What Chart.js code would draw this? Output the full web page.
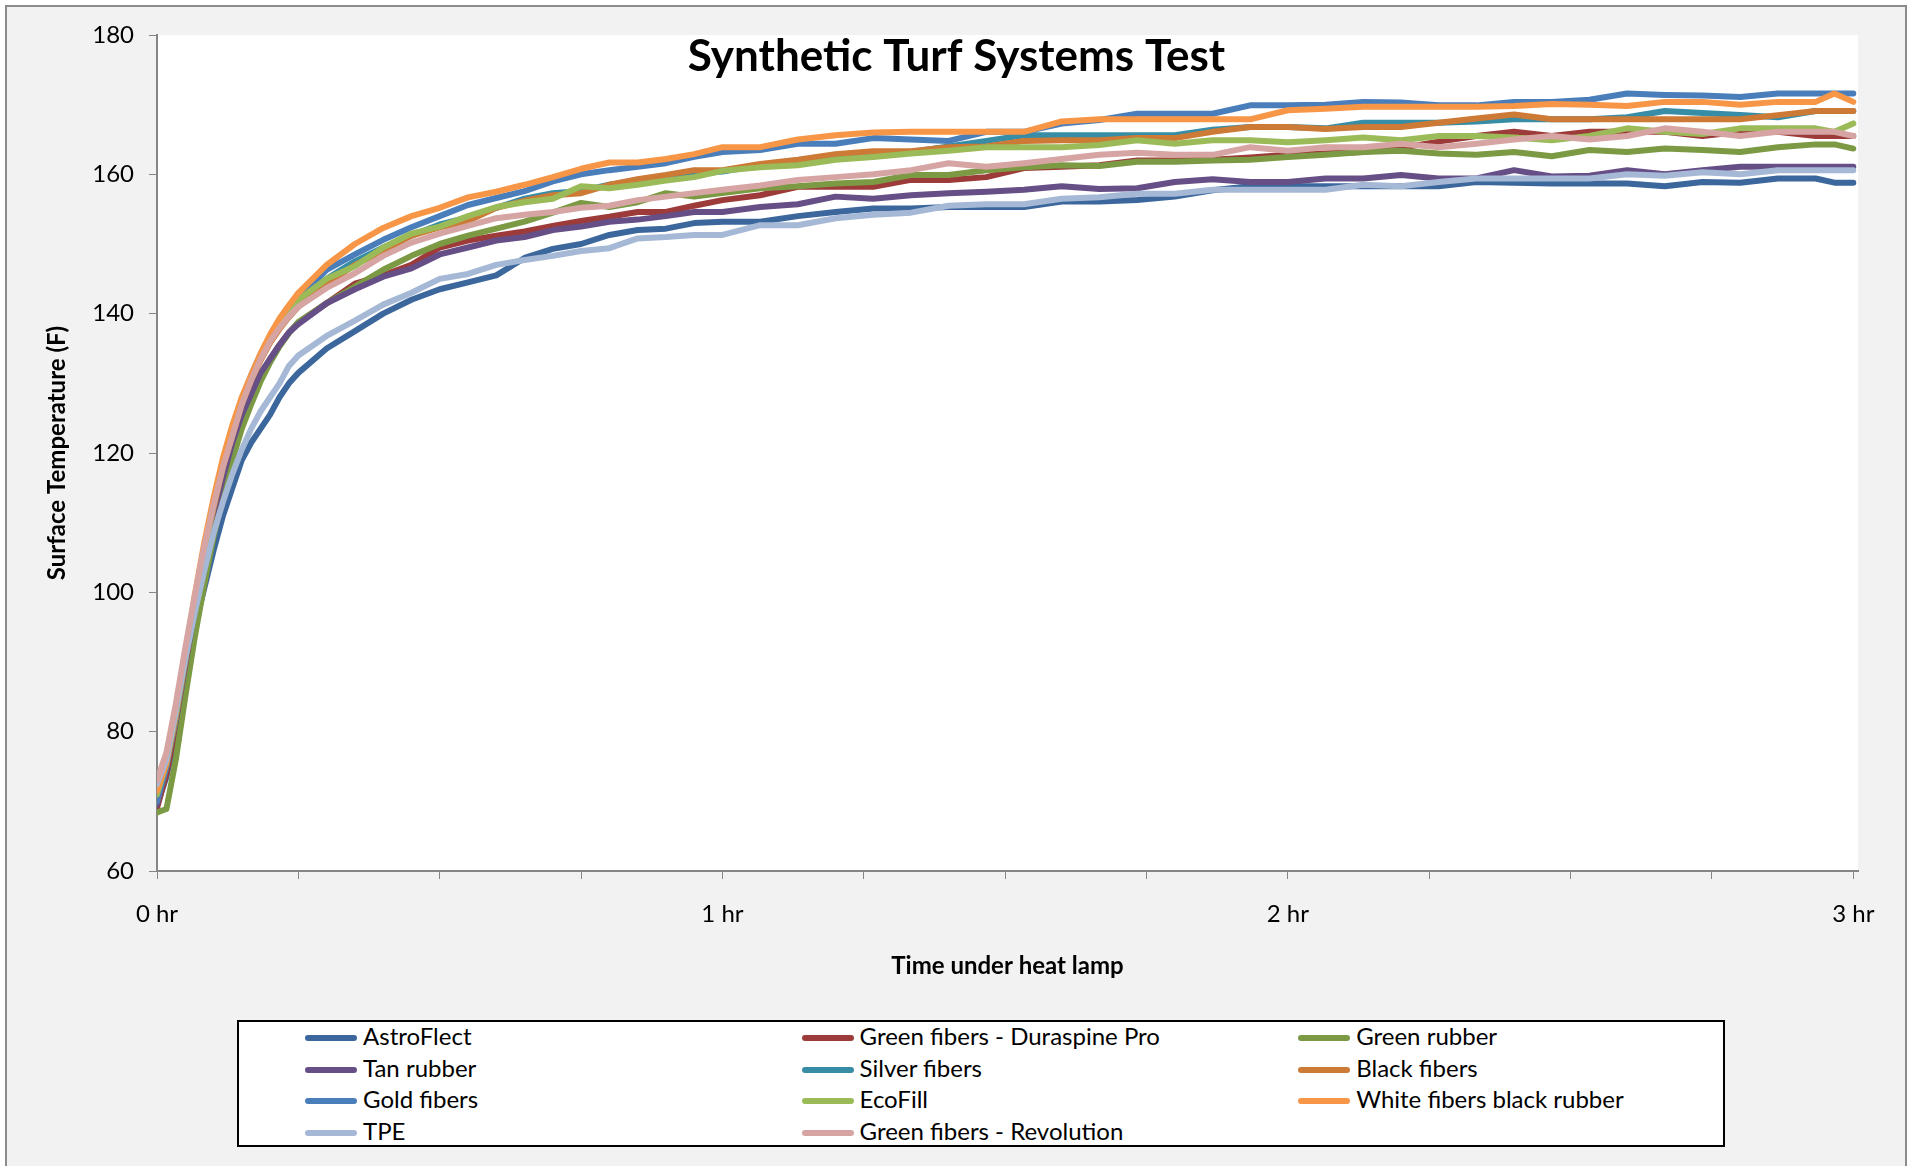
<!DOCTYPE html>
<html>
<head>
<meta charset="utf-8">
<title>Synthetic Turf Systems Test</title>
<script src="https://cdn.jsdelivr.net/npm/chart.js@4.4.1/dist/chart.umd.min.js"></script>
<style>
  html, body { margin: 0; padding: 0; background: #fff; overflow: hidden; }
  #frame { position: absolute; left: 5px; top: 5px; width: 1898px; height: 1300px; background: #f2f2f2; border: 2px solid #8c8c8c; }
  #wrap { position: absolute; left: 0; top: 0; width: 1913px; height: 1166px; }
  #legend { position: absolute; left: 237px; top: 1020px; width: 1484px; height: 123px; border: 2px solid #000; background: #fff;
            font-family: Lato, sans-serif; font-size: 24px; color: #000; }
  .item { position: absolute; height: 30px; line-height: 30px; white-space: nowrap; }
  .swatch { display: inline-block; width: 52px; height: 6px; border-radius: 3px; vertical-align: middle; margin-right: 6px; position: relative; top: -1px; }
</style>
</head>
<body>
<div id="frame"></div>
<div id="wrap"><canvas id="turfChart"></canvas></div>
<div id="legend"></div>
<script>
// minutes under the lamp
const times = [0, 1, 2, 3, 4, 5, 6, 7, 8, 9, 10, 11, 12, 13, 14, 15,
  18, 21, 24, 27, 30, 33, 36, 39, 42, 45, 48, 51, 54, 57, 60,
  64, 68, 72, 76, 80, 84, 88, 92, 96, 100, 104, 108, 112, 116, 120, 124, 128, 132, 136, 140, 144, 148, 152, 156, 160, 164, 168, 172, 176, 178, 180];

const seriesNames = ['AstroFlect', 'Green fibers - Duraspine Pro', 'Green rubber', 'Tan rubber', 'Silver fibers', 'Black fibers',
  'Gold fibers', 'EcoFill', 'White fibers black rubber', 'TPE', 'Green fibers - Revolution'];

const astroFlect = [69.5, 73.5, 79.5, 87.5, 95, 100.5, 106, 111, 115, 119, 121.5, 123.5, 125.5, 128, 130, 131.5,
  135, 137.5, 140, 142, 143.5, 144.5, 145.5, 148, 149.3, 150, 151.3, 152, 152.2, 153, 153.2,
  153.2, 154, 154.6, 155.1, 155.1, 155.3, 155.3, 155.3, 156.1, 156.1, 156.3, 156.8, 157.7, 158.3, 158.3, 158.3, 158.3, 158.3, 158.3, 158.9, 158.8, 158.7, 158.7, 158.7, 158.3, 158.9, 158.8, 159.4, 159.4, 158.8, 158.8];
const duraspinePro = [69, 74, 80.5, 88.5, 96, 103, 109.5, 115, 120, 124.5, 128, 131, 133.5, 135.5, 137.3, 138.7,
  141.5, 144.3, 145.5, 147, 149.5, 150.5, 151.2, 151.8, 152.6, 153.3, 153.9, 154.6, 154.6, 155.5, 156.3,
  157, 158.2, 158.2, 158.2, 159.2, 159.2, 159.6, 160.9, 161.1, 161.3, 162, 162, 162.1, 162.4, 162.8, 163, 163.2, 163.8, 164.7, 165.5, 166.1, 165.5, 166.1, 166.1, 166.1, 165.5, 166.1, 166.1, 165.5, 165.5, 165.5];
const greenRubber = [68.4, 68.9, 76, 85, 93.5, 101, 108, 114, 119, 123.5, 127, 130.3, 133, 135.3, 137.2, 138.8,
  141.5, 143.9, 146.3, 148.3, 150, 151.2, 152.2, 153.2, 154.5, 155.9, 155.3, 156, 157.3, 156.8, 157.3,
  158, 158.3, 158.7, 158.9, 159.9, 159.9, 160.6, 161, 161.3, 161.2, 161.8, 161.8, 162, 162.1, 162.5, 162.8, 163.2, 163.4, 163, 162.8, 163.2, 162.6, 163.5, 163.2, 163.7, 163.5, 163.2, 163.9, 164.3, 164.3, 163.7];
const tanRubber = [69.5, 75, 81.5, 89.5, 97.5, 104.5, 111, 116.5, 121.5, 125.5, 128.5, 131.5, 133.5, 135.5, 137.3, 138.5,
  141.5, 143.5, 145.3, 146.5, 148.5, 149.5, 150.5, 151, 152, 152.5, 153.2, 153.5, 154, 154.6, 154.6,
  155.3, 155.7, 156.8, 156.5, 157, 157.3, 157.5, 157.8, 158.3, 157.9, 158, 158.9, 159.3, 158.9, 158.9, 159.4, 159.4, 159.9, 159.4, 159.4, 160.6, 159.7, 159.8, 160.6, 160, 160.6, 161.1, 161.1, 161.1, 161.1, 161.1];
const silverFibers = [70.5, 75.3, 82.5, 90.5, 98.5, 106, 112.5, 118.3, 123, 127.5, 131, 134, 136.5, 138.5, 140.3, 141.8,
  145, 147.5, 149.5, 151.2, 152.8, 153.8, 155.2, 156.5, 157.3, 157.6, 158.5, 159.1, 159.4, 160.1, 160.4,
  161.3, 162, 162.7, 163.2, 163.2, 164, 164.8, 165.6, 165.6, 165.6, 165.6, 165.6, 166.4, 166.8, 166.8, 166.6, 167.4, 167.4, 167.4, 167.6, 167.9, 167.9, 167.9, 168.2, 169.1, 168.8, 168.5, 168.2, 169.1, 169.1, 169.1];
const blackFibers = [70, 75, 82, 90, 98, 105.5, 112, 118, 122.5, 127, 130.5, 133.3, 135.8, 137.8, 139.5, 141,
  144.3, 147, 149, 151.2, 152.4, 153.3, 155.2, 156.2, 157, 157.3, 158.5, 159.3, 159.9, 160.6, 160.6,
  161.5, 162.1, 162.9, 163.3, 163.3, 163.9, 164, 164.8, 164.9, 164.9, 165.2, 165.2, 166.1, 166.8, 166.8, 166.5, 166.8, 166.8, 167.4, 168, 168.6, 167.9, 167.9, 167.9, 167.9, 167.9, 167.9, 168.5, 169.1, 169.1, 169.1];
const goldFibers = [70, 75, 82.5, 90.5, 98.5, 106, 112.5, 118.3, 123.3, 127.7, 131.2, 134.2, 136.8, 139, 140.8, 142.3,
  146.3, 148.5, 150.6, 152.4, 154, 155.6, 156.6, 157.6, 159, 160, 160.6, 161.1, 161.6, 162.5, 163.2,
  163.5, 164.4, 164.4, 165.2, 165, 164.8, 166.1, 166.1, 167.3, 167.8, 168.7, 168.7, 168.7, 169.9, 169.9, 170, 170.4, 170.3, 169.9, 169.9, 170.4, 170.4, 170.7, 171.6, 171.4, 171.3, 171.1, 171.6, 171.6, 171.6, 171.6];
const ecoFill = [71, 75.5, 82.5, 90.5, 98.5, 106, 112.5, 118.3, 123, 127.5, 131, 134, 136.5, 138.7, 140.5, 142,
  145, 146.8, 149.5, 151.5, 152.5, 154, 155.3, 156, 156.5, 158.3, 158, 158.5, 159.1, 159.6, 160.5,
  161, 161.3, 162.1, 162.5, 163, 163.4, 163.9, 163.9, 163.9, 164.2, 164.9, 164.4, 164.9, 164.9, 164.6, 164.9, 165.3, 164.9, 165.5, 165.5, 165.3, 164.9, 165.5, 166.6, 166.1, 165.8, 166.6, 166.6, 166.6, 166.1, 167.3];
const whiteFibers = [71.5, 75.5, 83, 91, 99.5, 107, 113.5, 119.3, 124, 128, 131.2, 134.3, 137, 139.3, 141.2, 143,
  147, 150, 152.3, 154, 155.2, 156.7, 157.5, 158.5, 159.6, 160.8, 161.7, 161.7, 162.2, 162.9, 163.9,
  163.9, 165, 165.6, 166, 166.1, 166.1, 166.1, 166.1, 167.6, 167.9, 167.9, 167.9, 167.9, 167.9, 169.2, 169.4, 169.7, 169.7, 169.7, 169.7, 169.8, 170.1, 170, 169.8, 170.4, 170.4, 170, 170.4, 170.4, 171.6, 170.4];
const tpe = [72.5, 76, 83, 90.5, 97, 103, 108.5, 113, 117, 120.5, 123.5, 126, 128, 130, 132.5, 134,
  136.8, 139, 141.3, 143, 145, 145.7, 147, 147.7, 148.3, 149, 149.4, 150.8, 151, 151.3, 151.3,
  152.7, 152.7, 153.7, 154.2, 154.5, 155.5, 155.7, 155.7, 156.5, 156.7, 157.2, 157.2, 157.8, 157.8, 157.8, 157.8, 158.5, 158.3, 158.9, 159.4, 159.4, 159.4, 159.4, 160, 159.8, 160.3, 160, 160.6, 160.6, 160.6, 160.6];
const revolution = [73, 77, 84, 92, 99.5, 106.5, 112.5, 118, 122.5, 127, 130.5, 133.5, 136, 138, 139.6, 141,
  143.7, 145.8, 148.3, 150.2, 151.5, 152.6, 153.7, 154.2, 154.6, 155.2, 155.5, 156.3, 156.8, 157.3, 157.8,
  158.4, 159.2, 159.6, 160, 160.6, 161.6, 161.1, 161.6, 162.2, 162.8, 163.1, 162.8, 162.8, 163.9, 163.4, 163.9, 163.9, 164.4, 163.9, 164.4, 165, 165.5, 165, 165.5, 166.6, 166.1, 165.5, 166.1, 166.1, 166.1, 165.5];

const seriesValues = [astroFlect, duraspinePro, greenRubber, tanRubber, silverFibers, blackFibers,
  goldFibers, ecoFill, whiteFibers, tpe, revolution];
const seriesColors = ['#3b679c', '#9c3b39', '#7b9a43', '#664f86', '#378da6', '#cc7a35',
  '#4a7ebb', '#9bbb59', '#f79646', '#a5b8d5', '#d6a5a3'];

const hourLabels = ['0 hr', '1 hr', '2 hr', '3 hr'];
const chartTitle = 'Synthetic Turf Systems Test';

Chart.defaults.font.family = 'Lato, sans-serif';
Chart.defaults.font.size = 24;
Chart.defaults.color = '#000';

// white plot area on the grey chart background
const plotBackground = {
  id: 'plotBackground',
  beforeDraw(chart) {
    const { ctx, chartArea: a } = chart;
    ctx.save();
    ctx.fillStyle = '#ffffff';
    ctx.fillRect(a.left, a.top, a.right - a.left, a.bottom - a.top);
    ctx.restore();
  }
};

// title sits inside the plot area, like the Excel original
const innerTitle = {
  id: 'innerTitle',
  afterDatasetsDraw(chart) {
    const ctx = chart.ctx;
    ctx.save();
    ctx.font = 'bold 44px Lato, sans-serif';
    ctx.fillStyle = '#000';
    ctx.textAlign = 'center';
    ctx.textBaseline = 'alphabetic';
    ctx.fillText(chartTitle, chart.width / 2, 71);
    ctx.restore();
  }
};

function renderChart() {
  const ctx = document.getElementById('turfChart').getContext('2d');

  const datasets = seriesNames.map((name, i) => ({
    label: name,
    data: seriesValues[i],
    borderColor: seriesColors[i],
    backgroundColor: seriesColors[i],
    borderWidth: 6,
    pointRadius: 0,
    tension: 0,
    fill: false,
    borderJoinStyle: 'round',
    borderCapStyle: 'round',
    order: seriesNames.length - i   // later series on top, as in Excel
  }));

  new Chart(ctx, {
    type: 'line',
    data: { labels: times, datasets: datasets },
    plugins: [plotBackground, innerTitle],
    options: {
      responsive: true,
      maintainAspectRatio: false,
      animation: false,
      layout: { padding: { left: 39, right: 55, top: 35, bottom: 181.6 } },
      plugins: {
        legend: { display: false },
        title: { display: false },
        tooltip: { enabled: false }
      },
      scales: {
        x: {
          type: 'linear',
          min: 0,
          max: 180.5,
          afterFit(scale) { scale.height = 113.4; },
          ticks: {
            stepSize: 15,
            includeBounds: false,
            autoSkip: false,
            maxRotation: 0,
            padding: 21,
            callback: (v) => (v % 60 === 0 ? hourLabels[v / 60] : '')
          },
          grid: { drawOnChartArea: false, drawTicks: true, tickLength: 8, color: '#868686' },
          border: { color: '#868686', width: 2 },
          title: { display: true, text: 'Time under heat lamp', font: { weight: 'bold', size: 24 }, padding: { top: 4, bottom: 4 } }
        },
        y: {
          min: 60,
          max: 180,
          afterFit(scale) { scale.width = 118; },
          ticks: { stepSize: 20, padding: 15 },
          grid: { drawOnChartArea: false, drawTicks: true, tickLength: 8, color: '#868686' },
          border: { color: '#868686', width: 2 },
          title: { display: true, text: 'Surface Temperature (F)', font: { weight: 'bold', size: 24 }, padding: { top: 4, bottom: 4 } }
        }
      }
    }
  });
}

// legend box: 3 columns, filled row by row
function renderLegend() {
  const box = document.getElementById('legend');
  seriesNames.forEach((name, i) => {
    const col = i % 3;
    const row = Math.floor(i / 3);
    const item = document.createElement('div');
    item.className = 'item';
    item.style.left = (66 + col * 496.6) + 'px';
    item.style.top = (-1 + row * 31.7) + 'px';
    const sw = document.createElement('span');
    sw.className = 'swatch';
    sw.style.background = seriesColors[i];
    item.appendChild(sw);
    item.appendChild(document.createTextNode(name));
    box.appendChild(item);
  });
}

renderChart();
renderLegend();
</script>
</body>
</html>
